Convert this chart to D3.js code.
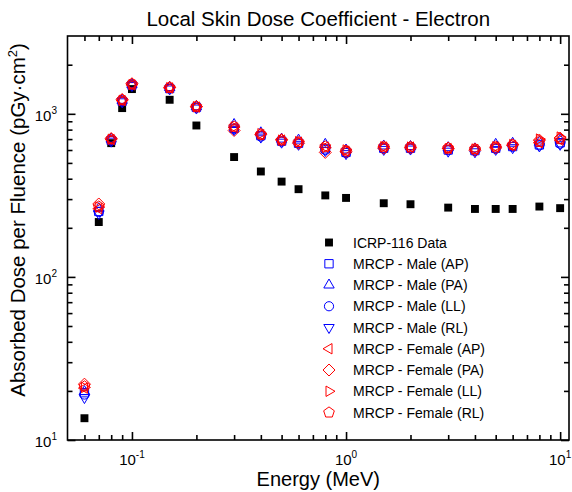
<!DOCTYPE html>
<html>
<head>
<meta charset="utf-8">
<script src="https://cdn.jsdelivr.net/npm/d3@7"></script>
<style>
    body { margin: 0; background: #fff; }
    svg { font-family: "Liberation Sans", Arial, sans-serif; }
</style>
</head>
<body>
<div id="chart"></div>
<script>
"use strict";
// energies (MeV)
const energy = [0.06, 0.07, 0.08, 0.09, 0.1, 0.15, 0.2, 0.3, 0.4, 0.5, 0.6, 0.8, 1, 1.5, 2, 3, 4, 5, 6, 8, 10]
// dose per fluence, pGy cm2
const icrp116 = [13.6, 217, 661, 1084, 1418, 1219, 848, 543, 443, 384, 345, 316, 305, 283, 279, 266, 261, 261, 261, 270, 264]
const maleAP = [19.5, 252, 688, 1195, 1500, 1430, 1095, 815, 735, 680, 660, 610, 580, 615, 615, 600, 595, 615, 630, 645, 665]
const malePA = [19.8, 262, 700, 1210, 1515, 1450, 1105, 860, 765, 700, 690, 650, 600, 635, 630, 620, 610, 650, 660, 670, 690]
const maleLL = [19.0, 250, 685, 1190, 1495, 1425, 1090, 805, 725, 675, 655, 600, 575, 610, 612, 598, 592, 610, 628, 640, 655]
const maleRL = [18.2, 245, 680, 1185, 1490, 1420, 1085, 800, 720, 670, 650, 595, 570, 605, 608, 590, 585, 605, 620, 635, 650]
const femaleAP = [20.8, 262, 695, 1205, 1505, 1440, 1100, 825, 745, 690, 670, 625, 590, 625, 625, 612, 605, 625, 640, 665, 690]
const femalePA = [22.0, 280, 705, 1225, 1530, 1455, 1110, 790, 750, 695, 660, 580, 585, 615, 618, 615, 598, 618, 645, 690, 710]
const femaleLL = [21.0, 268, 698, 1210, 1510, 1445, 1105, 830, 755, 690, 675, 620, 600, 628, 625, 610, 608, 628, 648, 700, 720]
const femaleRL = [21.3, 270, 700, 1215, 1520, 1448, 1108, 835, 748, 688, 672, 630, 595, 630, 628, 618, 610, 630, 645, 672, 700]

const seriesNames = ["ICRP-116 Data", "MRCP - Male (AP)", "MRCP - Male (PA)", "MRCP - Male (LL)", "MRCP - Male (RL)",
    "MRCP - Female (AP)", "MRCP - Female (PA)", "MRCP - Female (LL)", "MRCP - Female (RL)"]

// tick values
const xMajor = [0.1, 1, 10]
const xMajorExp = ["-1", "0", "1"]
const xMinor = [0.06, 0.07, 0.08, 0.09, 0.2, 0.3, 0.4, 0.5, 0.6, 0.7, 0.8, 0.9, 2, 3, 4, 5, 6, 7, 8, 9]
const yMajor = [10, 100, 1000]
const yMajorExp = ["1", "2", "3"]
const yMinor = [20, 30, 40, 50, 60, 70, 80, 90, 200, 300, 400, 500, 600, 700, 800, 900, 2000]

const measurements = { width: 572, height: 492, left: 67.5, right: 569, top: 36, bottom: 440 }
const blue = "#0000ff"
const red = "#ff0000"

const series = [
    { name: seriesNames[0], values: icrp116, shape: "square", color: "#000", filled: true },
    { name: seriesNames[1], values: maleAP, shape: "square", color: blue },
    { name: seriesNames[2], values: malePA, shape: "triUp", color: blue },
    { name: seriesNames[3], values: maleLL, shape: "circle", color: blue },
    { name: seriesNames[4], values: maleRL, shape: "triDown", color: blue },
    { name: seriesNames[5], values: femaleAP, shape: "triLeft", color: red },
    { name: seriesNames[6], values: femalePA, shape: "diamond", color: red },
    { name: seriesNames[7], values: femaleLL, shape: "triRight", color: red },
    { name: seriesNames[8], values: femaleRL, shape: "pentagon", color: red }
]

const svg = d3.select("#chart").append("svg")
    .attr("width", measurements.width)
    .attr("height", measurements.height)

const x = d3.scaleLog().domain([0.05, 11]).range([measurements.left, measurements.right])
const y = d3.scaleLog().domain([10, 3000]).range([measurements.bottom, measurements.top])

// polygon marker centred on 0,0
function polygon(n, r, startDeg) {
    let pts = []
    for (let i = 0; i < n; i++) {
        let a = (startDeg + i * 360 / n) * Math.PI / 180
        pts.push([r * Math.cos(a), r * Math.sin(a)])
    }
    return "M" + pts.map(p => p[0].toFixed(2) + "," + p[1].toFixed(2)).join("L") + "Z"
}

function shapePath(shape, filled) {
    if (shape == "square") return filled ? polygon(4, 5.6, 45) : polygon(4, 5.9, 45)
    if (shape == "triUp") return polygon(3, 6, -90)
    if (shape == "triDown") return polygon(3, 6, 90)
    if (shape == "triLeft") return polygon(3, 6, 180)
    if (shape == "triRight") return polygon(3, 6, 0)
    if (shape == "diamond") return polygon(4, 6, -90)
    if (shape == "pentagon") return polygon(5, 5.6, -90)
    return d3.symbol(d3.symbolCircle, Math.PI * 4.6 * 4.6)()
}

// axes: ticks point inward on all four sides
function drawAxes() {
    const g = svg.append("g")
    const sides = [
        { make: () => d3.axisBottom(x), t: "translate(0," + measurements.bottom + ")", isX: true },
        { make: () => d3.axisTop(x), t: "translate(0," + measurements.top + ")", isX: true },
        { make: () => d3.axisLeft(y), t: "translate(" + measurements.left + ",0)", isX: false },
        { make: () => d3.axisRight(y), t: "translate(" + measurements.right + ",0)", isX: false }
    ]
    sides.forEach(a => {
        g.append("g").attr("transform", a.t)
            .call(a.make().tickValues(a.isX ? xMajor : yMajor).tickFormat("").tickSize(-8).tickSizeOuter(0))
            .call(s => s.select(".domain").remove())
        g.append("g").attr("transform", a.t)
            .call(a.make().tickValues(a.isX ? xMinor : yMinor).tickFormat("").tickSize(-5).tickSizeOuter(0))
            .call(s => s.select(".domain").remove())
    })
    g.selectAll("line").attr("stroke", "#000").attr("stroke-width", 1.6)

    svg.append("rect")
        .attr("x", measurements.left)
        .attr("y", measurements.top)
        .attr("width", measurements.right - measurements.left)
        .attr("height", measurements.bottom - measurements.top)
        .attr("fill", "none")
        .attr("stroke", "#000")
        .attr("stroke-width", 1.6)

    // tick labels with superscripts
    const xl = svg.selectAll(".xlab").data(xMajor).enter().append("text")
        .attr("x", d => x(d))
        .attr("y", 465)
        .attr("text-anchor", "middle")
        .style("font-size", "15px")
    xl.append("tspan").text("10")
    xl.append("tspan").attr("dy", -7).style("font-size", "10px").text((d, i) => xMajorExp[i])

    const yl = svg.selectAll(".ylab").data(yMajor).enter().append("text")
        .attr("x", 57)
        .attr("y", d => y(d) + 7)
        .attr("text-anchor", "end")
        .style("font-size", "15px")
    yl.append("tspan").text("10")
    yl.append("tspan").attr("dy", -7).style("font-size", "10px").text((d, i) => yMajorExp[i])
}

function plotData() {
    series.forEach(s => {
        svg.append("g").selectAll("path")
            .data(energy.map((e, i) => [e, s.values[i]]))
            .enter()
            .append("path")
            .attr("d", shapePath(s.shape, s.filled))
            .attr("transform", d => "translate(" + x(d[0]) + "," + y(d[1]) + ")")
            .attr("fill", s.filled ? s.color : "none")
            .attr("stroke", s.color)
            .attr("stroke-width", s.filled ? 0 : 1)
    })
}

function drawLegend() {
    series.forEach((s, i) => {
        let ly = 242.5 + i * 21.25
        svg.append("path")
            .attr("d", shapePath(s.shape, s.filled))
            .attr("transform", "translate(329," + ly + ")")
            .attr("fill", s.filled ? s.color : "none")
            .attr("stroke", s.color)
            .attr("stroke-width", s.filled ? 0 : 1)
        svg.append("text")
            .attr("x", 353)
            .attr("y", ly + 5)
            .style("font-size", "14px")
            .text(s.name)
    })
}

drawAxes()
plotData()
drawLegend()

// titles
svg.append("text")
    .attr("x", (measurements.left + measurements.right) / 2)
    .attr("y", 26)
    .attr("text-anchor", "middle")
    .style("font-size", "20.5px")
    .text("Local Skin Dose Coefficient - Electron")

svg.append("text")
    .attr("x", (measurements.left + measurements.right) / 2)
    .attr("y", 486)
    .attr("text-anchor", "middle")
    .style("font-size", "20px")
    .text("Energy (MeV)")

const yTitle = svg.append("text")
    .attr("transform", "translate(25,220) rotate(-90)")
    .attr("text-anchor", "middle")
    .style("font-size", "20.5px")
yTitle.append("tspan").text("Absorbed Dose per Fluence (pGy\u00b7cm")
yTitle.append("tspan").attr("dy", -8).style("font-size", "13px").text("2")
yTitle.append("tspan").attr("dy", 8).text(")")
</script>
</body>
</html>
